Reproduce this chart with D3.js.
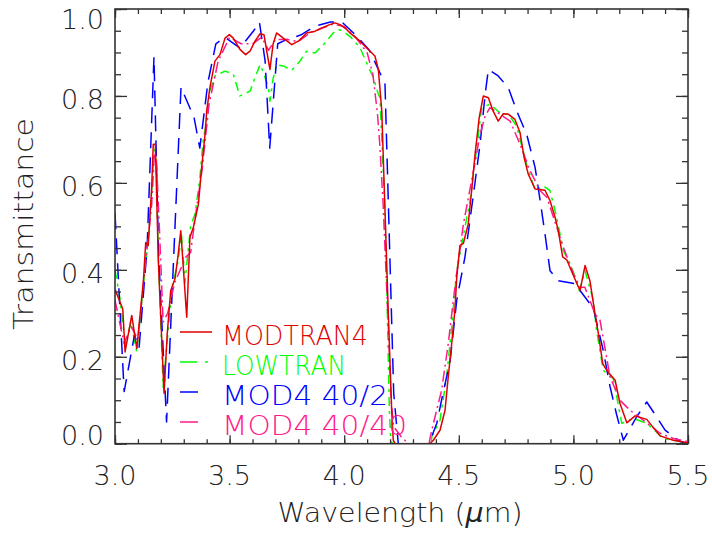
<!DOCTYPE html>
<html><head><meta charset="utf-8">
<script src="https://cdn.jsdelivr.net/npm/d3@7"></script>
<style>body{margin:0;background:#fff}</style>
</head><body>
<svg id="c" width="712" height="533"></svg>
<script>
// ---- data ----
const modtranX=[3.000,3.034,3.044,3.073,3.095,3.124,3.134,3.145,3.160,3.167,3.176,3.189,3.199,3.214,3.228,3.243,3.262,3.276,3.287,3.313,3.327,3.342,3.364,3.378,3.393,3.400,3.414,3.436,3.458,3.480,3.499,3.516,3.545,3.570,3.589,3.611,3.633,3.650,3.663,3.676,3.690,3.705,3.734,3.771,3.800,3.836,3.873,3.900,3.937,3.960,3.982,4.011,4.025,4.069,4.113,4.134,4.149,4.164,4.178,4.192,4.207,4.214,4.222,4.374,4.389,4.418,4.440,4.454,4.469,4.483,4.491,4.505,4.520,4.541,4.556,4.571,4.589,4.607,4.629,4.650,4.672,4.694,4.716,4.745,4.767,4.785,4.803,4.833,4.876,4.898,4.920,4.934,4.953,4.971,5.000,5.029,5.051,5.072,5.094,5.109,5.128,5.145,5.182,5.203,5.233,5.269,5.320,5.378,5.436,5.500];
const modtranY=[0.355,0.31,0.211,0.295,0.219,0.375,0.463,0.456,0.589,0.689,0.689,0.421,0.30,0.116,0.254,0.352,0.38,0.437,0.49,0.291,0.475,0.498,0.551,0.635,0.712,0.765,0.819,0.88,0.895,0.933,0.941,0.933,0.907,0.895,0.903,0.926,0.943,0.941,0.90,0.861,0.92,0.945,0.933,0.918,0.926,0.945,0.949,0.956,0.964,0.968,0.964,0.953,0.945,0.926,0.903,0.892,0.861,0.765,0.536,0.307,0.077,0.008,0.0,0.0,0.008,0.031,0.077,0.154,0.23,0.307,0.383,0.456,0.461,0.505,0.582,0.666,0.75,0.80,0.796,0.765,0.742,0.759,0.758,0.746,0.716,0.658,0.62,0.586,0.583,0.559,0.521,0.49,0.43,0.423,0.387,0.352,0.41,0.375,0.30,0.253,0.184,0.169,0.146,0.093,0.048,0.064,0.056,0.018,0.008,0.002];

const lowtranX=[3.000,3.020,3.045,3.070,3.095,3.125,3.145,3.160,3.170,3.178,3.190,3.210,3.230,3.250,3.275,3.290,3.305,3.330,3.350,3.370,3.385,3.400,3.414,3.436,3.480,3.516,3.545,3.589,3.611,3.633,3.650,3.669,3.676,3.690,3.705,3.734,3.771,3.807,3.836,3.873,3.916,3.952,3.974,3.996,4.033,4.069,4.098,4.127,4.149,4.156,4.178,4.188,4.197,4.203,4.215,4.380,4.382,4.418,4.447,4.469,4.491,4.505,4.549,4.571,4.600,4.636,4.680,4.716,4.752,4.796,4.833,4.869,4.898,4.927,4.956,4.993,5.026,5.051,5.087,5.101,5.130,5.174,5.211,5.262,5.320,5.393,5.466,5.500];
const lowtranY=[0.40,0.34,0.23,0.28,0.21,0.37,0.47,0.58,0.67,0.68,0.42,0.13,0.25,0.36,0.42,0.48,0.37,0.50,0.53,0.61,0.70,0.742,0.811,0.846,0.857,0.85,0.80,0.811,0.842,0.872,0.85,0.819,0.788,0.84,0.872,0.869,0.859,0.88,0.903,0.899,0.922,0.945,0.953,0.949,0.933,0.911,0.876,0.842,0.804,0.796,0.536,0.307,0.077,0.005,0.0,0.0,0.016,0.054,0.154,0.268,0.398,0.437,0.559,0.65,0.773,0.781,0.761,0.758,0.731,0.643,0.582,0.593,0.582,0.521,0.444,0.406,0.352,0.398,0.33,0.261,0.169,0.15,0.047,0.058,0.047,0.012,0.005,0.002];

const mod2X=[3.000,3.040,3.085,3.105,3.140,3.170,3.190,3.225,3.288,3.345,3.370,3.405,3.440,3.480,3.545,3.605,3.630,3.655,3.675,3.710,3.750,3.810,3.870,3.940,3.990,4.050,4.110,4.150,4.178,4.216,4.236,4.370,4.404,4.431,4.462,4.491,4.527,4.564,4.593,4.615,4.629,4.672,4.716,4.753,4.796,4.833,4.855,4.876,4.898,4.934,5.007,5.051,5.087,5.130,5.160,5.189,5.218,5.276,5.320,5.363,5.400,5.466,5.500];
const mod2Y=[0.53,0.12,0.25,0.22,0.45,0.89,0.44,0.05,0.82,0.75,0.68,0.83,0.92,0.935,0.91,0.95,0.97,0.88,0.68,0.92,0.93,0.94,0.96,0.97,0.97,0.94,0.905,0.86,0.827,0.116,0.0,0.0,0.047,0.116,0.19,0.33,0.43,0.574,0.69,0.804,0.861,0.846,0.819,0.765,0.712,0.635,0.559,0.483,0.398,0.375,0.368,0.337,0.311,0.215,0.131,0.066,0.008,0.062,0.096,0.062,0.031,0.005,0.0];

const mod40X=[3.000,3.040,3.070,3.100,3.130,3.160,3.172,3.180,3.195,3.210,3.230,3.260,3.285,3.310,3.330,3.350,3.380,3.410,3.450,3.500,3.550,3.600,3.640,3.670,3.700,3.750,3.800,3.850,3.900,3.950,4.000,4.050,4.100,4.125,4.145,4.155,4.170,4.190,4.205,4.215,4.250,4.280,4.370,4.382,4.425,4.454,4.483,4.520,4.564,4.593,4.615,4.636,4.680,4.724,4.767,4.811,4.855,4.884,4.913,4.956,5.000,5.029,5.050,5.094,5.116,5.160,5.203,5.247,5.305,5.378,5.436,5.500];
const mod40Y=[0.33,0.23,0.27,0.24,0.40,0.55,0.67,0.66,0.48,0.28,0.30,0.37,0.40,0.43,0.44,0.52,0.63,0.78,0.88,0.935,0.92,0.92,0.935,0.905,0.93,0.93,0.925,0.945,0.955,0.965,0.96,0.935,0.90,0.85,0.76,0.69,0.55,0.30,0.10,0.04,0.015,0.0,0.0,0.031,0.123,0.23,0.36,0.505,0.628,0.712,0.754,0.773,0.758,0.742,0.689,0.628,0.582,0.567,0.521,0.452,0.391,0.36,0.36,0.299,0.284,0.154,0.10,0.077,0.054,0.024,0.012,0.005];

const xMajorTicks=[3.0,3.5,4.0,4.5,5.0,5.5];
const yMajorTicks=[0.0,0.2,0.4,0.6,0.8,1.0];
const legendLabels=["MODTRAN4","LOWTRAN","MOD4 40/2","MOD4 40/40"];
const xTitle="Wavelength (";
const yTitle="Transmittance";

// ---- drawing ----
const svg=d3.select("#c");
const L=115,R=688,T=9,B=443.7;
const x=d3.scaleLinear().domain([3.0,5.5]).range([L,R]);
const y=d3.scaleLinear().domain([0,1]).range([B,T]);
const axisCol="#333";
const font="'DejaVu Sans', sans-serif";

svg.append("defs").append("clipPath").attr("id","clip")
  .append("rect").attr("x",L).attr("y",T-2).attr("width",R-L).attr("height",B-T+2);

const series=[
  {xs:lowtranX,ys:lowtranY,color:"#00ff00",dash:"9,5,3,5",label:legendLabels[1],tl:124},
  {xs:mod2X,ys:mod2Y,color:"#0000ff",dash:"16,9",label:legendLabels[2],tl:166},
  {xs:mod40X,ys:mod40Y,color:"#ff1a8c",dash:"11,4,2,4",label:legendLabels[3],tl:185},
  {xs:modtranX,ys:modtranY,color:"#e00000",dash:null,label:legendLabels[0],tl:146}
];
const line=d3.line().x(d=>x(d[0])).y(d=>y(d[1]));
const g=svg.append("g").attr("clip-path","url(#clip)");
series.forEach(s=>{
  g.append("path").datum(s.xs.map((v,i)=>[v,s.ys[i]]))
   .attr("d",line).attr("fill","none").attr("stroke",s.color)
   .attr("stroke-width",1.5).attr("stroke-linejoin","round")
   .attr("stroke-dasharray",s.dash);
});

// axes (ticks inward) on all four sides
const xMinor=d3.range(30,56).map(v=>v/10);
const yMinor=d3.range(0,21).map(v=>v/20);
function tickAxis(gen,scale,vals,size,tr){
  const a=svg.append("g").attr("transform",tr)
    .call(gen(scale).tickValues(vals).tickSize(size).tickFormat(""));
  a.select(".domain").remove();
  a.selectAll("line").attr("stroke",axisCol).attr("stroke-width",1.3);
}
tickAxis(d3.axisBottom,x,xMinor,-4.5,`translate(0,${B})`);
tickAxis(d3.axisBottom,x,xMajorTicks,-8.5,`translate(0,${B})`);
tickAxis(d3.axisTop,x,xMinor,-5,`translate(0,${T})`);
tickAxis(d3.axisTop,x,xMajorTicks,-9,`translate(0,${T})`);
tickAxis(d3.axisLeft,y,yMinor,-6,`translate(${L},0)`);
tickAxis(d3.axisLeft,y,yMajorTicks,-12,`translate(${L},0)`);
tickAxis(d3.axisRight,y,yMinor,-6,`translate(${R},0)`);
tickAxis(d3.axisRight,y,yMajorTicks,-12,`translate(${R},0)`);
svg.append("rect").attr("x",L).attr("y",T).attr("width",R-L).attr("height",B-T)
  .attr("fill","none").attr("stroke",axisCol).attr("stroke-width",1.6);

// tick labels
svg.append("g").selectAll("text").data(xMajorTicks).join("text")
  .attr("x",d=>x(d)).attr("y",485).attr("text-anchor","middle")
  .attr("font-family",font).attr("font-weight",200).attr("font-size",27).attr("fill","#222")
  .text(d=>d.toFixed(1));
svg.append("g").selectAll("text").data(yMajorTicks).join("text")
  .attr("x",104).attr("y",d=>Math.min(Math.max(y(d)+3.5,T+10.5),B-9)+9.8)
  .attr("text-anchor","end")
  .attr("font-family",font).attr("font-weight",200).attr("font-size",27).attr("fill","#222")
  .text(d=>d.toFixed(1));

// axis titles
const xt=svg.append("text").attr("x",400).attr("y",522).attr("text-anchor","middle")
  .attr("font-family",font).attr("font-weight",200).attr("font-size",27).attr("fill","#222")
  .attr("textLength",245).attr("lengthAdjust","spacingAndGlyphs");
xt.append("tspan").text(xTitle);
xt.append("tspan").attr("font-style","italic").text("\u03bc");
xt.append("tspan").text("m)");
svg.append("text").attr("transform","translate(33,224) rotate(-90)").attr("text-anchor","middle")
  .attr("font-family",font).attr("font-weight",200).attr("font-size",26).attr("fill","#222")
  .attr("textLength",212).attr("lengthAdjust","spacingAndGlyphs")
  .text(yTitle);

// legend
const legOrder=[3,0,1,2];
legOrder.forEach((si,i)=>{
  const s=series[si];
  const by=345+30*i;
  svg.append("line").attr("x1",180).attr("x2",212).attr("y1",by-13).attr("y2",by-13)
    .attr("stroke",s.color).attr("stroke-width",1.5).attr("stroke-dasharray",s.dash?(si===0?"17,8,3,8":"18,22,2,4"):null);
  svg.append("text").attr("x",222).attr("y",by)
    .attr("font-family",font).attr("font-weight",200).attr("font-size",27).attr("fill",s.color)
    .attr("textLength",s.tl).attr("lengthAdjust","spacingAndGlyphs")
    .text(s.label);
});
</script>
</body></html>
